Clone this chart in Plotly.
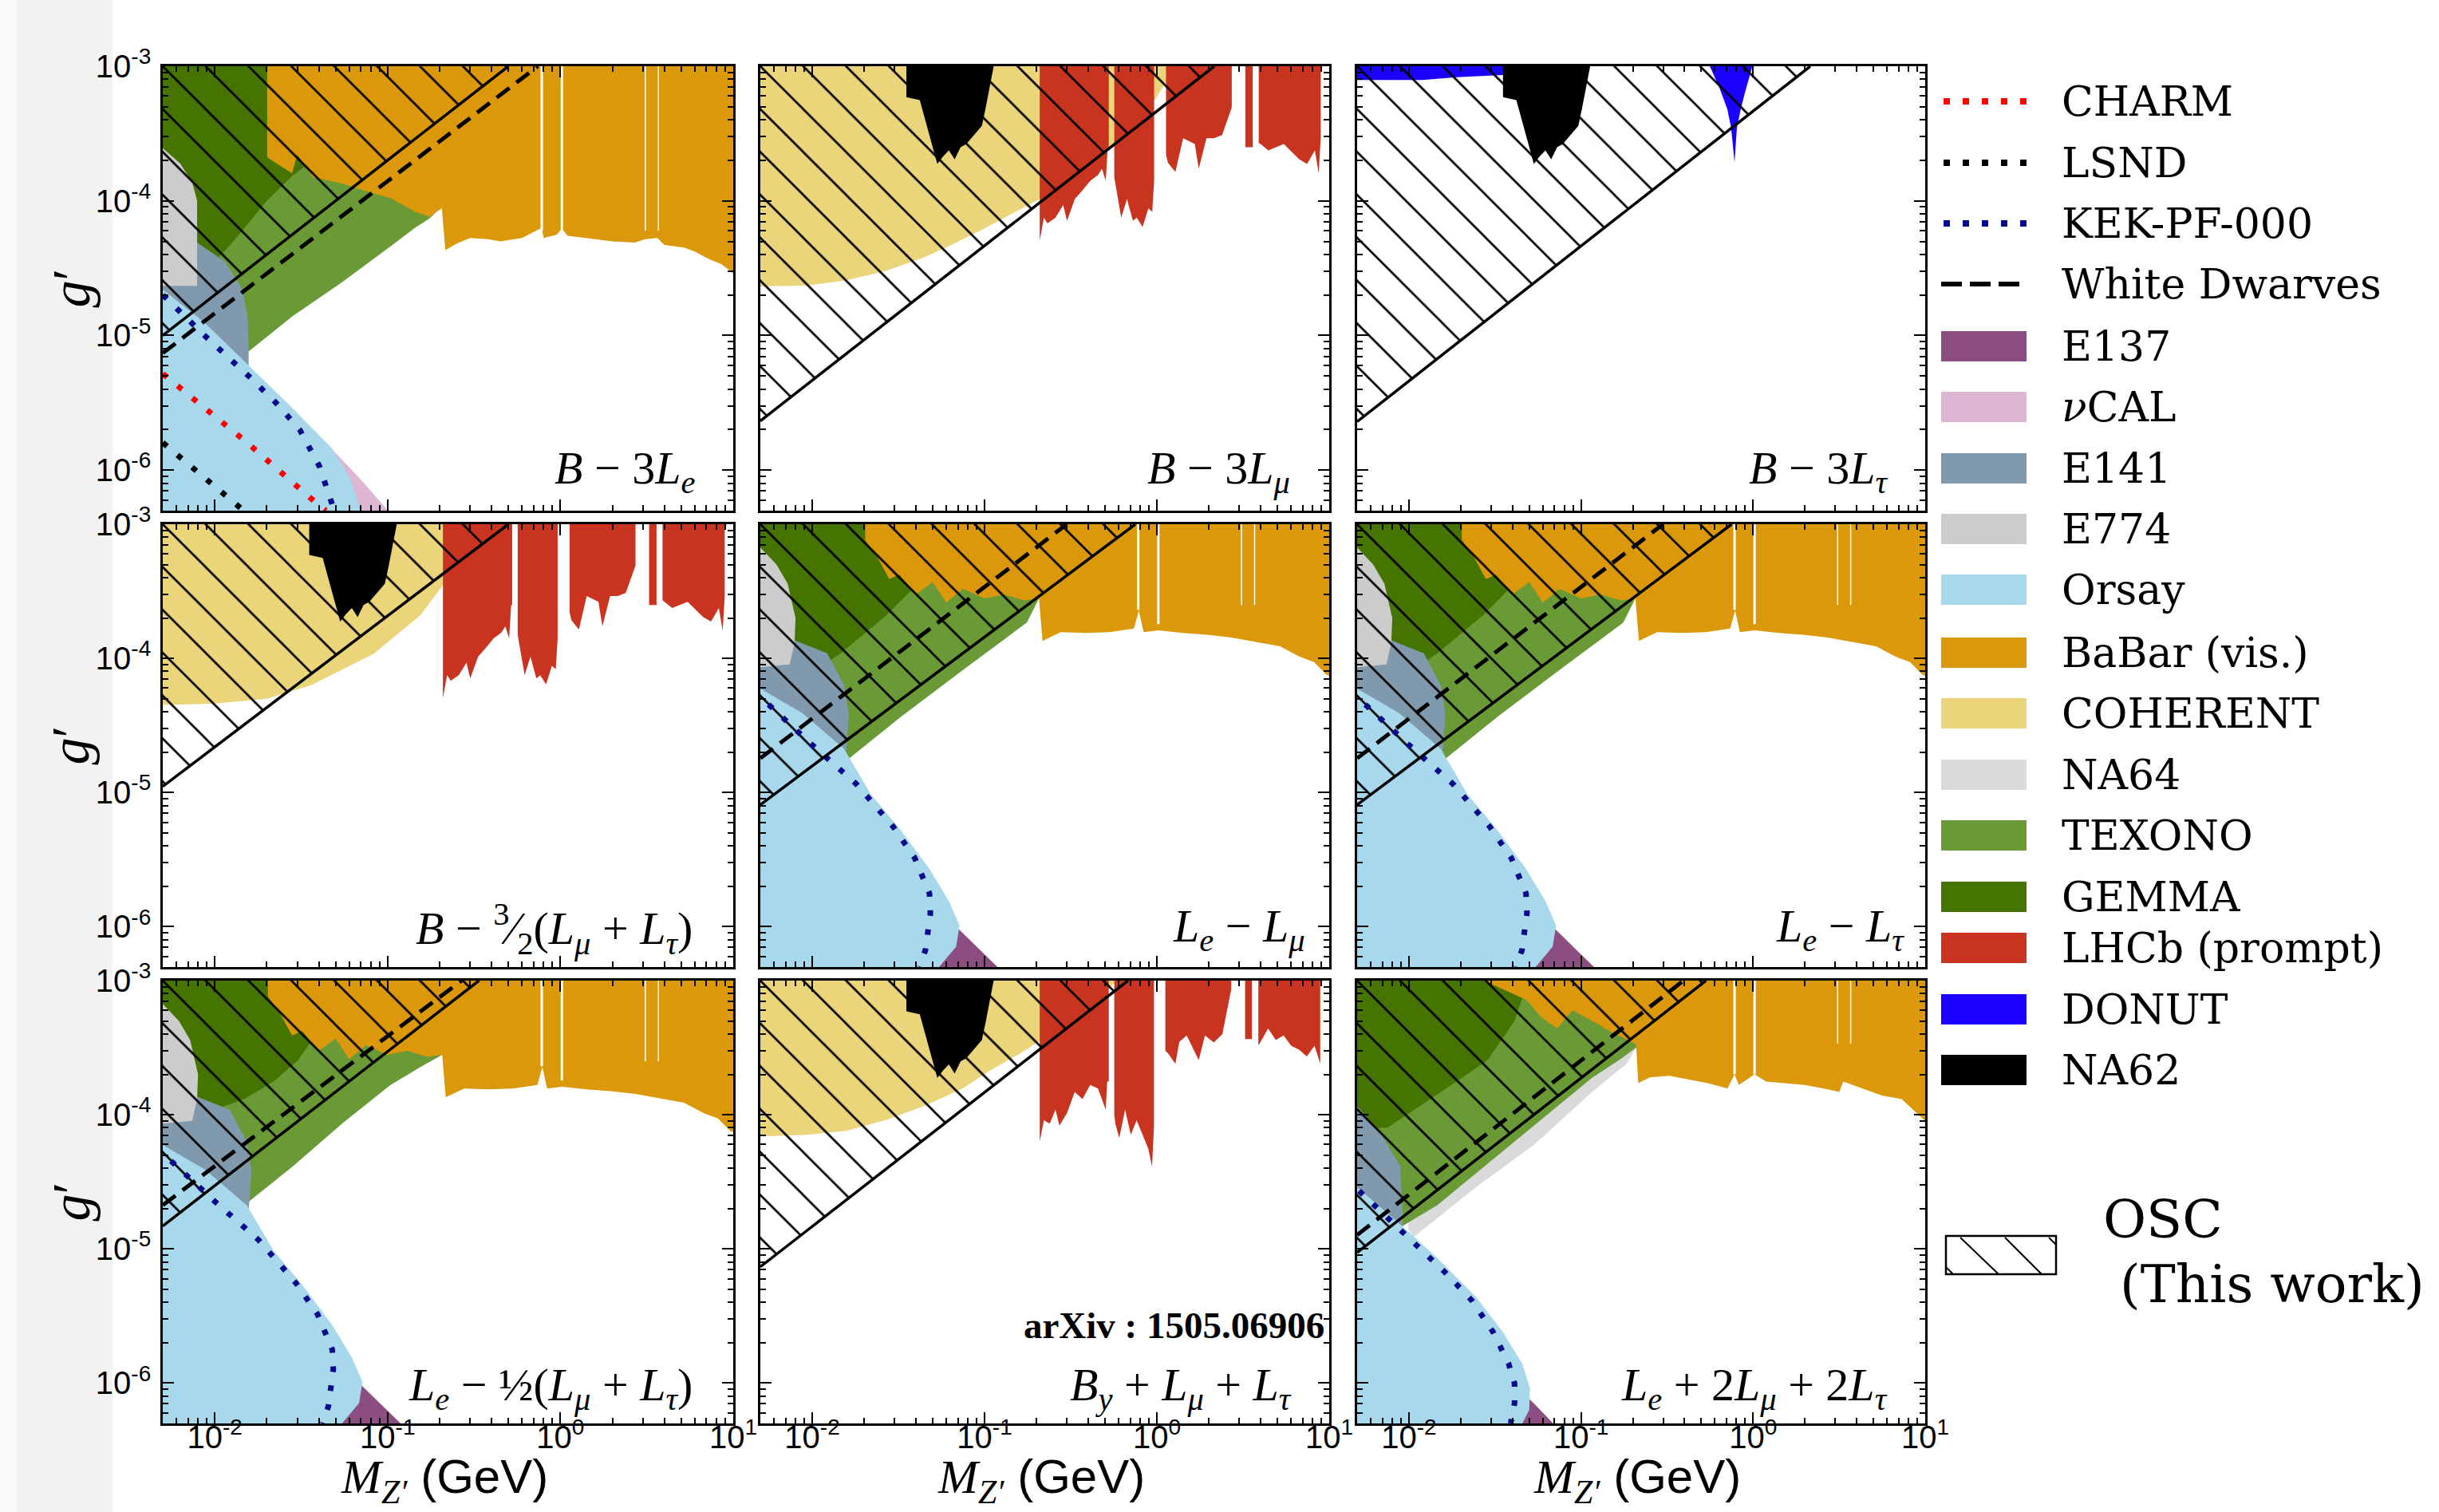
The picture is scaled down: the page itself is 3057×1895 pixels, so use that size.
import math
import plotly.graph_objects as go

W, H = 3057, 1895

# ---------------- axes / ticks ----------------
X_RANGE = [0.005, 10.0]
Y_RANGE = [5e-7, 1e-3]
X_TICKS = [0.01, 0.1, 1.0, 10.0]
X_TICK_TEXT = ["10<sup>-2</sup>", "10<sup>-1</sup>", "10<sup>0</sup>", "10<sup>1</sup>"]
Y_TICKS = [1e-6, 1e-5, 1e-4, 1e-3]
Y_TICK_TEXT = ["10<sup>-6</sup>", "10<sup>-5</sup>", "10<sup>-4</sup>", "10<sup>-3</sup>"]

OPM = " \u2212 "
OPP = " + "
PANEL_LABELS = [
    "<i>B</i>" + OPM + "3<i>L</i><sub><i>e</i></sub>",
    "<i>B</i>" + OPM + "3<i>L</i><sub><i>\u03bc</i></sub>",
    "<i>B</i>" + OPM + "3<i>L</i><sub><i>\u03c4</i></sub>",
    "<i>B</i>" + OPM + "<sup>3</sup>\u2044<sub>2</sub>(<i>L</i><sub><i>\u03bc</i></sub>" + OPP + "<i>L</i><sub><i>\u03c4</i></sub>)",
    "<i>L</i><sub><i>e</i></sub>" + OPM + "<i>L</i><sub><i>\u03bc</i></sub>",
    "<i>L</i><sub><i>e</i></sub>" + OPM + "<i>L</i><sub><i>\u03c4</i></sub>",
    "<i>L</i><sub><i>e</i></sub>" + OPM + "\u00bd(<i>L</i><sub><i>\u03bc</i></sub>" + OPP + "<i>L</i><sub><i>\u03c4</i></sub>)",
    "<i>B</i><sub><i>y</i></sub>" + OPP + "<i>L</i><sub><i>\u03bc</i></sub>" + OPP + "<i>L</i><sub><i>\u03c4</i></sub>",
    "<i>L</i><sub><i>e</i></sub>" + OPP + "2<i>L</i><sub><i>\u03bc</i></sub>" + OPP + "2<i>L</i><sub><i>\u03c4</i></sub>",
]
ARXIV_TEXT = "arXiv : 1505.06906"

# ---------------- shared data ----------------
NA62_X = [0.0352, 0.0352, 0.0421, 0.0468, 0.0532, 0.0575, 0.0621, 0.0671, 0.0726, 0.0784, 0.0869, 0.0965, 0.1016, 0.113]
NA62_Y = [1e-3, 5.9e-4, 5.6e-4, 3.42e-4, 1.88e-4, 2.14e-4, 2.37e-4, 2.03e-4, 2.50e-4, 2.64e-4, 3.08e-4, 3.61e-4, 4.93e-4, 1e-3]
GAP_X = [0.78, 1.02, 3.10, 3.69]

# ---------------- panel 1 : B - 3Le ----------------
P1_OSC_X = [0.005, 0.50]
P1_OSC_Y = [1.0e-5, 1e-3]
P1_WD_X = [0.005, 0.74]
P1_WD_Y = [7.4e-6, 1e-3]
P1_TEXONO_X = [0.005, 0.40, 0.21, 0.206, 0.175, 0.144, 0.104, 0.0541, 0.0282, 0.0157, 0.005]
P1_TEXONO_Y = [1e-3, 1e-3, 1.3e-4, 9.1e-5, 7.4e-5, 6.3e-5, 4.6e-5, 2.47e-5, 1.39e-5, 7.6e-6, 7.6e-6]
P1_GEMMA_X = [0.005, 0.06, 0.06, 0.035, 0.0282, 0.020, 0.0121, 0.0079, 0.005]
P1_GEMMA_Y = [1e-3, 1e-3, 2.2e-4, 1.9e-4, 1.54e-4, 1.0e-4, 4.6e-5, 2.6e-5, 2.0e-5]
P1_BABAR_X = [0.0201, 10, 10, 9.7, 8.5, 7.2, 6.0, 5.2, 4.0, 3.64, 3.09, 2.7, 2.0, 1.41, 1.1, 1.02, 0.95, 0.80,
              0.78, 0.6, 0.45, 0.38, 0.30, 0.25, 0.216, 0.206, 0.19, 0.175, 0.144, 0.104, 0.08, 0.054, 0.037,
              0.030, 0.028, 0.0201]
P1_BABAR_Y = [1e-3, 1e-3, 2.88e-5, 3.0e-5, 3.4e-5, 3.7e-5, 4.2e-5, 4.5e-5, 4.7e-5, 5.3e-5, 5.2e-5, 4.9e-5, 5.0e-5,
              5.3e-5, 5.5e-5, 6.2e-5, 5.6e-5, 5.3e-5, 6.3e-5, 5.3e-5, 5.0e-5, 5.2e-5, 5.3e-5, 4.8e-5, 4.3e-5,
              8.8e-5, 8.2e-5, 7.6e-5, 8.3e-5, 1.05e-4, 1.15e-4, 1.35e-4, 1.5e-4, 2.2e-4, 1.6e-4, 2.1e-4]
P1_GAP_BOTTOM = [6e-5, 6e-5, 6e-5, 6e-5]
P1_E774_X = [0.005, 0.0063, 0.0074, 0.0079, 0.0079, 0.005]
P1_E774_Y = [2.46e-4, 1.9e-4, 1.38e-4, 1.0e-4, 2.34e-5, 2.34e-5]
P1_E141_X = [0.005, 0.0079, 0.0114, 0.0144, 0.0155, 0.0157, 0.0157, 0.005]
P1_E141_Y = [5e-5, 4.9e-5, 3.56e-5, 2.22e-5, 1.39e-5, 9e-6, 5.5e-6, 5.5e-6]
P1_ORSAY_X = [0.005, 0.0087, 0.0157, 0.0282, 0.0475, 0.060, 0.0703, 0.005]
P1_ORSAY_Y = [2.2e-5, 1.25e-5, 6.0e-6, 2.88e-6, 1.46e-6, 9.0e-7, 5e-7, 5e-7]
P1_NUCAL_X = [0.035, 0.047, 0.070, 0.1005, 0.035]
P1_NUCAL_Y = [2.0e-6, 1.46e-6, 8.5e-7, 5e-7, 5e-7]
P1_KEK_X = [0.005, 0.00887, 0.0157, 0.0224, 0.031, 0.0403, 0.0475, 0.049]
P1_KEK_Y = [2.0e-5, 9.8e-6, 5.0e-6, 3.2e-6, 2.0e-6, 1.07e-6, 5.7e-7, 5e-7]
P1_CHARM_X = [0.005, 0.0152, 0.0395, 0.044]
P1_CHARM_Y = [5.2e-6, 1.62e-6, 5.56e-7, 5e-7]
P1_LSND_X = [0.005, 0.0147]
P1_LSND_Y = [1.6e-6, 5e-7]

# ---------------- panel 2 : B - 3Lmu ----------------
P2_OSC_X = [0.005, 2.155]
P2_OSC_Y = [2.32e-6, 1e-3]
P2_COH_X = [0.005, 0.005, 0.0094, 0.0158, 0.0265, 0.0444, 0.0638, 0.0965, 0.146, 0.209, 0.352, 0.546, 0.99, 1.28]
P2_COH_Y = [1e-3, 2.31e-5, 2.35e-5, 2.57e-5, 3.01e-5, 3.80e-5, 4.69e-5, 6.1e-5, 8.1e-5, 1.03e-4, 1.73e-4, 2.5e-4, 5.8e-4, 1e-3]
P2_LHCB_X = [0.209, 0.209, 0.221, 0.232, 0.258, 0.286, 0.301, 0.334, 0.371, 0.411, 0.456, 0.48, 0.505, 0.519, 0.526, 0.526, None,
             0.566, 0.566, 0.575, 0.621, 0.671, 0.726, 0.764, 0.826, 0.893, 0.94, 0.964, 0.964, None,
             1.13, 1.13, 1.16, 1.28, 1.42, 1.66, 1.75, 1.94, 2.15, 2.39, 2.72, 2.72, None,
             3.26, 3.26, 3.6, 3.6, None,
             3.9, 3.9, 4.0, 4.43, 5.45, 6.71, 7.44, 8.26, 8.69, 8.93, 8.93]
P2_LHCB_Y = [1e-3, 5.07e-5, 7.5e-5, 6.8e-5, 7.5e-5, 9.3e-5, 7.1e-5, 1.03e-4, 1.2e-4, 1.41e-4, 1.56e-4, 1.73e-4, 1.41e-4, 2.5e-4, 2.5e-4, 1e-3, None,
             1e-3, 1.5e-4, 1.33e-4, 7.5e-5, 1.03e-4, 7.1e-5, 7.5e-5, 6.4e-5, 8.8e-5, 8.3e-5, 1.41e-4, 1e-3, None,
             1e-3, 2.2e-4, 1.92e-4, 1.64e-4, 2.92e-4, 2.64e-4, 1.73e-4, 2.92e-4, 2.92e-4, 3.08e-4, 4.93e-4, 1e-3, None,
             1e-3, 2.5e-4, 2.5e-4, 1e-3, None,
             1e-3, 2.7e-4, 2.64e-4, 2.37e-4, 2.64e-4, 2.03e-4, 1.88e-4, 2.37e-4, 1.6e-4, 2.92e-4, 1e-3]

# ---------------- panel 3 : B - 3Ltau ----------------
P3_OSC_X = [0.005, 2.15]
P3_OSC_Y = [2.29e-6, 1e-3]
P3_DONUT_X = [0.005, 0.005, 0.012, 0.0189, 0.0352, 0.0526, 0.06, None,
              0.56, 0.638, 0.708, 0.745, 0.78, 0.805, 0.848, 0.893, 0.99]
P3_DONUT_Y = [1e-3, 7.9e-4, 7.9e-4, 8.3e-4, 8.6e-4, 9.4e-4, 1e-3, None,
              1e-3, 6.9e-4, 4.8e-4, 3.5e-4, 1.93e-4, 3.5e-4, 4.8e-4, 6.25e-4, 1e-3]

# ---------------- panel 4 : B - 3/2(Lmu+Ltau) ----------------
P4_OSC_X = [0.005, 0.50]
P4_OSC_Y = [1.11e-5, 1e-3]
P4_COH_X = [0.005, 0.005, 0.010, 0.020, 0.0361, 0.083, 0.155, 0.212, 0.30, 0.50]
P4_COH_Y = [1e-3, 4.5e-5, 4.6e-5, 5.0e-5, 6.3e-5, 1.08e-4, 2.1e-4, 3.6e-4, 5.5e-4, 1e-3]

# ---------------- panels 5/6 : Le - Lmu, Le - Ltau ----------------
P5_OSC_X = [0.005, 0.75]
P5_OSC_Y = [8.1e-6, 1e-3]
P5_WD_X = [0.005, 0.30]
P5_WD_Y = [1.8e-5, 1e-3]
P5_TEXONO_X = [0.005, 0.40, 0.207, 0.176, 0.076, 0.033, 0.0145, 0.0140, 0.005]
P5_TEXONO_Y = [1e-3, 1e-3, 2.8e-4, 1.85e-4, 8.3e-5, 3.7e-5, 1.58e-5, 1.4e-5, 1.4e-5]
P5_GEMMA_X = [0.005, 0.06, 0.06, 0.041, 0.027, 0.0145, 0.0077, 0.005]
P5_GEMMA_Y = [1e-3, 1e-3, 4e-4, 3.6e-4, 2.1e-4, 1.08e-4, 6.3e-5, 5e-5]

# ---------------- panel 7 : Le - 1/2(Lmu+Ltau) ----------------
P7_OSC_X = [0.005, 0.338]
P7_OSC_Y = [1.48e-5, 1e-3]
P7_WD_X = [0.005, 0.268]
P7_WD_Y = [2.12e-5, 1e-3]
P7_TEXONO_X = [0.005, 0.40, 0.207, 0.155, 0.104, 0.0545, 0.0284, 0.0158, 0.0155, 0.005]
P7_TEXONO_Y = [1e-3, 1e-3, 2.8e-4, 2.27e-4, 1.67e-4, 8.6e-5, 4.14e-5, 2.26e-5, 1.8e-5, 1.8e-5]
P7_GEMMA_X = [0.005, 0.06, 0.06, 0.0369, 0.0303, 0.0219, 0.0148, 0.0088, 0.005]
P7_GEMMA_Y = [1e-3, 1e-3, 5e-4, 3.67e-4, 2.55e-4, 1.77e-4, 1.31e-4, 1.03e-4, 9e-5]
P7_BABAR_X = [0.0203, 10, 10, 9.6, 8.16, 6.73, 5.19, 3.74, 2.71, 1.95, 1.41, 1.02, 0.838, 0.786, 0.736, 0.532,
              0.384, 0.277, 0.217, 0.207, 0.17, 0.13, 0.10, 0.075, 0.06, 0.05, 0.04, 0.032, 0.028, 0.024, 0.0203]
P7_BABAR_Y = [1e-3, 1e-3, 7.4e-5, 7.6e-5, 9.4e-5, 1.03e-4, 1.23e-4, 1.33e-4, 1.43e-4, 1.5e-4, 1.55e-4, 1.62e-4,
              1.57e-4, 2.27e-4, 1.67e-4, 1.57e-4, 1.55e-4, 1.57e-4, 1.35e-4, 2.8e-4, 2.7e-4, 3.0e-4, 2.8e-4,
              3.3e-4, 2.6e-4, 3.7e-4, 3.0e-4, 4.2e-4, 3.9e-4, 5.6e-4, 7.6e-4]
P7_GAP_BOTTOM = [2.3e-4, 1.8e-4, 2.5e-4, 2.5e-4]
P7_E774_X = [0.005, 0.0062, 0.0072, 0.0080, 0.0079, 0.0074, 0.005]
P7_E774_Y = [6.7e-4, 5.0e-4, 3.6e-4, 2.0e-4, 1.31e-4, 9e-5, 8.6e-5]
P7_E141_X = [0.005, 0.0075, 0.0122, 0.0153, 0.0163, 0.0158, 0.0155, 0.005]
P7_E141_Y = [1.6e-4, 1.4e-4, 1.09e-4, 6.3e-5, 3.9e-5, 2.26e-5, 1.5e-5, 1.5e-5]
P7_ORSAY_X = [0.005, 0.0088, 0.0153, 0.0219, 0.0324, 0.0478, 0.062, 0.0716, 0.0684, 0.0545, 0.005]
P7_ORSAY_Y = [5.96e-5, 3.9e-5, 2.12e-5, 9.7e-6, 5.3e-6, 2.7e-6, 1.56e-6, 1.02e-6, 7.1e-7, 5e-7, 5e-7]
P7_E137_X = [0.06, 0.0706, 0.119, 0.05]
P7_E137_Y = [1.1e-6, 9.6e-7, 5e-7, 5e-7]
P7_KEK_X = [0.00558, 0.01, 0.018, 0.0294, 0.0394, 0.0479, 0.0485, 0.0454, 0.042]
P7_KEK_Y = [4.53e-5, 2.26e-5, 1.16e-5, 5.6e-6, 3.24e-6, 1.77e-6, 1.26e-6, 6.7e-7, 5e-7]

# ---------------- panel 8 : By + Lmu + Ltau ----------------
P8_OSC_X = [0.005, 0.68]
P8_OSC_Y = [7.35e-6, 1e-3]
P8_COH_X = [0.005, 0.005, 0.0094, 0.0158, 0.0265, 0.0445, 0.0746, 0.107, 0.162, 0.21, 0.352, 0.546, 0.59]
P8_COH_Y = [1e-3, 6.9e-5, 7.1e-5, 7.6e-5, 9.1e-5, 1.16e-4, 1.57e-4, 2.13e-4, 2.88e-4, 3.57e-4, 5.6e-4, 9.1e-4, 1e-3]
P8_LHCB_X = [0.209, 0.209, 0.221, 0.239, 0.258, 0.272, 0.301, 0.334, 0.37, 0.41, 0.455, 0.48, 0.505, 0.515, 0.526, 0.526, None,
             0.566, 0.566, 0.574, 0.605, 0.654, 0.706, 0.763, 0.824, 0.891, 0.938, 0.962, 0.962, None,
             1.12, 1.12, 1.16, 1.28, 1.35, 1.49, 1.75, 1.9, 2.14, 2.4, 2.70, 2.70, None,
             3.25, 3.25, 3.56, 3.56, None,
             3.88, 3.88, 3.98, 4.42, 4.9, 5.43, 6.02, 6.68, 7.41, 8.22, 8.87, 8.87]
P8_LHCB_Y = [1e-3, 6.3e-5, 9.1e-5, 8.6e-5, 1.09e-4, 8.3e-5, 1.03e-4, 1.48e-4, 1.31e-4, 1.67e-4, 1.57e-4, 1.31e-4, 1.09e-4, 1.77e-4, 1.77e-4, 1e-3, None,
             1e-3, 1.0e-4, 8.6e-5, 6.7e-5, 1.09e-4, 7.1e-5, 9.1e-5, 7.1e-5, 5.6e-5, 4.1e-5, 8.3e-5, 1e-3, None,
             1e-3, 3.0e-4, 2.88e-4, 2.4e-4, 3.5e-4, 3.9e-4, 2.55e-4, 3.9e-4, 3.46e-4, 4.0e-4, 8.6e-4, 1e-3, None,
             1e-3, 3.67e-4, 3.67e-4, 1e-3, None,
             1e-3, 3.3e-4, 3.46e-4, 4.4e-4, 3.6e-4, 3.9e-4, 3.26e-4, 3.06e-4, 2.72e-4, 3.26e-4, 2.4e-4, 1e-3]

# ---------------- panel 9 : Le + 2Lmu + 2Ltau ----------------
P9_OSC_X = [0.005, 0.532]
P9_OSC_Y = [9.4e-6, 1e-3]
P9_WD_X = [0.005, 0.394]
P9_WD_Y = [1.27e-5, 1e-3]
P9_NA64_X = [0.0099, 0.0107, 0.0245, 0.0532, 0.116, 0.184, 0.209, 0.209, 0.0099]
P9_NA64_Y = [1.4e-5, 1.23e-5, 2.88e-5, 5.96e-5, 1.48e-4, 2.4e-4, 3.16e-4, 5e-4, 5e-4]
P9_TEXONO_X = [0.005, 0.30, 0.209, 0.166, 0.116, 0.0689, 0.0411, 0.0245, 0.0146, 0.00916, 0.0088, 0.005]
P9_TEXONO_Y = [1e-3, 1e-3, 3.16e-4, 2.55e-4, 1.89e-4, 1.09e-4, 6.3e-5, 3.66e-5, 2.12e-5, 1.48e-5, 1.7e-5, 1.7e-5]
P9_GEMMA_X = [0.005, 0.05, 0.048, 0.0411, 0.0286, 0.0189, 0.0087, 0.0075, 0.005]
P9_GEMMA_Y = [1e-3, 1e-3, 9.1e-4, 5.0e-4, 2.55e-4, 1.77e-4, 9.1e-5, 8e-5, 8e-5]
P9_BABAR_X = [0.0272, 10, 10, 9.9, 8.5, 7.3, 5.6, 4.3, 3.34, 3.17, 2.58, 1.99, 1.54, 1.19, 1.02, 0.826, 0.78, 0.71,
              0.546, 0.42, 0.325, 0.251, 0.215, 0.209, 0.15, 0.116, 0.089, 0.0727, 0.059, 0.048, 0.039, 0.0317, 0.0272]
P9_BABAR_Y = [1e-3, 1e-3, 8.5e-5, 9.1e-5, 1.09e-4, 1.31e-4, 1.39e-4, 1.57e-4, 1.77e-4, 1.48e-4, 1.57e-4, 1.67e-4,
              1.72e-4, 1.77e-4, 2.0e-4, 1.67e-4, 2.0e-4, 1.57e-4, 1.72e-4, 1.83e-4, 1.95e-4, 1.9e-4, 1.72e-4, 3.36e-4,
              4.15e-4, 5.0e-4, 6.0e-4, 4.4e-4, 5.3e-4, 7.2e-4, 8.1e-4, 9.1e-4, 1e-3]
P9_GAP_BOTTOM = [2.0e-4, 2.0e-4, 3.4e-4, 3.4e-4]
P9_E141_X = [0.005, 0.0067, 0.0089, 0.0092, 0.0092, 0.005]
P9_E141_Y = [1.16e-4, 7.6e-5, 4.14e-5, 1.77e-5, 1.3e-5, 1.3e-5]
P9_ORSAY_X = [0.005, 0.00916, 0.0146, 0.0245, 0.0352, 0.0456, 0.0505, 0.050, 0.0456, 0.005]
P9_ORSAY_Y = [2.88e-5, 1.48e-5, 8.55e-6, 4.39e-6, 2.39e-6, 1.39e-6, 9.1e-7, 6.3e-7, 5e-7, 5e-7]
P9_E137_X = [0.048, 0.053, 0.0689, 0.040]
P9_E137_Y = [8e-7, 7.1e-7, 5e-7, 5e-7]
P9_KEK_X = [0.00513, 0.00916, 0.0162, 0.0232, 0.0309, 0.038, 0.0411, 0.0411, 0.039]
P9_KEK_Y = [2.71e-5, 1.35e-5, 6.7e-6, 4.13e-6, 2.39e-6, 1.39e-6, 9.9e-7, 7.1e-7, 5e-7]

# ---------------- legend ----------------
LEGEND_LINE_NAMES = ["CHARM", "LSND", "KEK-PF-000", "White Dwarves"]
LEGEND_FILL_NAMES = ["E137", "<i>\u03bd</i>CAL", "E141", "E774", "Orsay", "BaBar (vis.)", "COHERENT", "NA64",
                     "TEXONO", "GEMMA", "LHCb (prompt)", "DONUT", "NA62"]

# ---------------- styling ----------------
C = dict(CHARM="#FF0000", LSND="#000000", KEK="#0A0A8C", WD="#000000", E137="#8C4E80", NUCAL="#DDB6D4",
         E141="#8099AD", E774="#CCCCCC", ORSAY="#A7D8EC", BABAR="#DB980B", COH="#EBD57B", NA64="#DADADA",
         TEXONO="#699A35", GEMMA="#467400", LHCB="#C93421", DONUT="#1A00FF", NA62="#000000")
LEGEND_LINE_COLORS = [C["CHARM"], C["LSND"], C["KEK"], C["WD"]]
LEGEND_FILL_COLORS = [C["E137"], C["NUCAL"], C["E141"], C["E774"], C["ORSAY"], C["BABAR"], C["COH"], C["NA64"],
                      C["TEXONO"], C["GEMMA"], C["LHCB"], C["DONUT"], C["NA62"]]
LEG_LINE_YPX = [127, 204, 280, 356]
LEG_FILL_YPX = [434, 510, 587, 663, 739, 818, 894, 971, 1047, 1124, 1188, 1265, 1341]

COL_PX = [(204, 919), (953, 1666), (1701, 2413)]
ROW_PX = [(83, 640), (657, 1212), (1229, 1784)]
LABEL_RIGHT_PX = [873, 1619, 2368, 870, 1638, 2389, 870, 1621, 2368]
LABEL_Y_PX = [591, 591, 591, 1164, 1164, 1164, 1739, 1739, 1739]

SERIF = "Liberation Serif"
SANS = "Liberation Sans"
LEGF = "DejaVu Serif"
DOT = "7px,17px"
WDASH = "20px,11px"


def px(xp):
    return xp / W


def py(yp):
    return 1 - yp / H


fig = go.Figure()


def axes(p):
    return ("x" if p == 0 else "x%d" % (p + 1)), ("y" if p == 0 else "y%d" % (p + 1))


def add_fill(p, xs, ys, color, name):
    xa, ya = axes(p)
    fig.add_trace(go.Scatter(x=xs, y=ys, xaxis=xa, yaxis=ya, mode="lines", fill="toself", fillcolor=color,
                             line=dict(width=0, color=color), hoverinfo="skip", showlegend=False, name=name))


def add_line(p, xs, ys, color, width, dash, name):
    xa, ya = axes(p)
    fig.add_trace(go.Scatter(x=xs, y=ys, xaxis=xa, yaxis=ya, mode="lines",
                             line=dict(width=width, color=color, dash=dash), hoverinfo="skip",
                             showlegend=False, name=name))


def add_hatch(p, ox, oy):
    xa, ya = axes(p)
    xs = [ox[0], ox[1], ox[0], ox[0]]
    ys = [oy[0], oy[1], Y_RANGE[1], oy[0]]
    fig.add_trace(go.Scatter(x=xs, y=ys, xaxis=xa, yaxis=ya, mode="lines", fill="toself",
                             fillcolor="rgba(0,0,0,0)",
                             fillpattern=dict(shape="\\", size=38, solidity=0.07, fgcolor="black",
                                              bgcolor="rgba(0,0,0,0)", fillmode="replace"),
                             line=dict(width=0, color="black"), hoverinfo="skip", showlegend=False,
                             name="OSC (This work)"))


def add_gaps(p, bottoms):
    xw, yw, xt, yt = [], [], [], []
    for i, (gx, gb) in enumerate(zip(GAP_X, bottoms)):
        if i < 2:
            xw += [gx, gx, None]
            yw += [Y_RANGE[1], gb, None]
        else:
            xt += [gx, gx, None]
            yt += [Y_RANGE[1], gb, None]
    add_line(p, xw, yw, "white", 3, "solid", "BaBar veto")
    add_line(p, xt, yt, "white", 1.5, "solid", "BaBar veto")


def osc_lines(p, ox, oy, wdx=None, wdy=None):
    if wdx is not None:
        add_line(p, wdx, wdy, C["WD"], 5, WDASH, "White Dwarves")
    add_line(p, ox, oy, "black", 3.5, "solid", "OSC")


# ---- panel 1
p = 0
add_fill(p, P1_TEXONO_X, P1_TEXONO_Y, C["TEXONO"], "TEXONO")
add_fill(p, P1_GEMMA_X, P1_GEMMA_Y, C["GEMMA"], "GEMMA")
add_fill(p, P1_BABAR_X, P1_BABAR_Y, C["BABAR"], "BaBar")
add_fill(p, P1_E141_X, P1_E141_Y, C["E141"], "E141")
add_fill(p, P1_E774_X, P1_E774_Y, C["E774"], "E774")
add_fill(p, P1_NUCAL_X, P1_NUCAL_Y, C["NUCAL"], "nuCAL")
add_fill(p, P1_ORSAY_X, P1_ORSAY_Y, C["ORSAY"], "Orsay")
add_gaps(p, P1_GAP_BOTTOM)
add_hatch(p, P1_OSC_X, P1_OSC_Y)
add_line(p, P1_LSND_X, P1_LSND_Y, C["LSND"], 7, DOT, "LSND")
add_line(p, P1_CHARM_X, P1_CHARM_Y, C["CHARM"], 7, DOT, "CHARM")
add_line(p, P1_KEK_X, P1_KEK_Y, C["KEK"], 7, DOT, "KEK")
osc_lines(p, P1_OSC_X, P1_OSC_Y, P1_WD_X, P1_WD_Y)

# ---- panels 2, 4, 8 (muon-type)
for p, cx, cy, lx, ly, ox, oy in [(1, P2_COH_X, P2_COH_Y, P2_LHCB_X, P2_LHCB_Y, P2_OSC_X, P2_OSC_Y),
                                  (3, P4_COH_X, P4_COH_Y, P2_LHCB_X, P2_LHCB_Y, P4_OSC_X, P4_OSC_Y),
                                  (7, P8_COH_X, P8_COH_Y, P8_LHCB_X, P8_LHCB_Y, P8_OSC_X, P8_OSC_Y)]:
    add_fill(p, cx, cy, C["COH"], "COHERENT")
    add_fill(p, lx, ly, C["LHCB"], "LHCb")
    add_fill(p, NA62_X, NA62_Y, C["NA62"], "NA62")
    add_hatch(p, ox, oy)
    osc_lines(p, ox, oy)

# ---- panel 3
p = 2
add_fill(p, P3_DONUT_X, P3_DONUT_Y, C["DONUT"], "DONUT")
add_fill(p, NA62_X, NA62_Y, C["NA62"], "NA62")
add_hatch(p, P3_OSC_X, P3_OSC_Y)
osc_lines(p, P3_OSC_X, P3_OSC_Y)

# ---- panels 5, 6, 7 (electron-type)
for p, tx, ty, gx, gy, ox, oy, wx, wy in [
        (4, P5_TEXONO_X, P5_TEXONO_Y, P5_GEMMA_X, P5_GEMMA_Y, P5_OSC_X, P5_OSC_Y, P5_WD_X, P5_WD_Y),
        (5, P5_TEXONO_X, P5_TEXONO_Y, P5_GEMMA_X, P5_GEMMA_Y, P5_OSC_X, P5_OSC_Y, P5_WD_X, P5_WD_Y),
        (6, P7_TEXONO_X, P7_TEXONO_Y, P7_GEMMA_X, P7_GEMMA_Y, P7_OSC_X, P7_OSC_Y, P7_WD_X, P7_WD_Y)]:
    add_fill(p, tx, ty, C["TEXONO"], "TEXONO")
    add_fill(p, gx, gy, C["GEMMA"], "GEMMA")
    add_fill(p, P7_BABAR_X, P7_BABAR_Y, C["BABAR"], "BaBar")
    add_fill(p, P7_E141_X, P7_E141_Y, C["E141"], "E141")
    add_fill(p, P7_E774_X, P7_E774_Y, C["E774"], "E774")
    add_fill(p, P7_E137_X, P7_E137_Y, C["E137"], "E137")
    add_fill(p, P7_ORSAY_X, P7_ORSAY_Y, C["ORSAY"], "Orsay")
    add_gaps(p, P7_GAP_BOTTOM)
    add_hatch(p, ox, oy)
    add_line(p, P7_KEK_X, P7_KEK_Y, C["KEK"], 7, DOT, "KEK")
    osc_lines(p, ox, oy, wx, wy)

# ---- panel 9
p = 8
add_fill(p, P9_NA64_X, P9_NA64_Y, C["NA64"], "NA64")
add_fill(p, P9_TEXONO_X, P9_TEXONO_Y, C["TEXONO"], "TEXONO")
add_fill(p, P9_GEMMA_X, P9_GEMMA_Y, C["GEMMA"], "GEMMA")
add_fill(p, P9_BABAR_X, P9_BABAR_Y, C["BABAR"], "BaBar")
add_fill(p, P9_E141_X, P9_E141_Y, C["E141"], "E141")
add_fill(p, P9_E137_X, P9_E137_Y, C["E137"], "E137")
add_fill(p, P9_ORSAY_X, P9_ORSAY_Y, C["ORSAY"], "Orsay")
add_gaps(p, P9_GAP_BOTTOM)
add_hatch(p, P9_OSC_X, P9_OSC_Y)
add_line(p, P9_KEK_X, P9_KEK_Y, C["KEK"], 7, DOT, "KEK")
osc_lines(p, P9_OSC_X, P9_OSC_Y, P9_WD_X, P9_WD_Y)


# ---------------- axes ----------------
def minor_vals(lo, hi):
    vals = []
    for d in range(-8, 2):
        for k in range(2, 10):
            v = k * 10.0 ** d
            if lo < v < hi:
                vals.append(v)
    return vals


XMINOR = minor_vals(*X_RANGE)
YMINOR = minor_vals(*Y_RANGE)

layout = dict(width=W, height=H, margin=dict(l=0, r=0, t=0, b=0, autoexpand=False), paper_bgcolor="white",
              plot_bgcolor="white", showlegend=False)
for p in range(9):
    r, c = divmod(p, 3)
    x0, x1 = COL_PX[c]
    yt, yb = ROW_PX[r]
    xa, ya = axes(p)
    common = dict(type="log", showline=True, linecolor="black", linewidth=2.5, mirror="allticks",
                  ticks="inside", ticklen=14, tickwidth=2, tickcolor="black", showgrid=False,
                  zeroline=False, automargin=False, tickfont=dict(family=SANS, size=40, color="black"))
    layout["xaxis" if p == 0 else "xaxis%d" % (p + 1)] = dict(
        common, domain=[px(x0), px(x1)], range=[math.log10(X_RANGE[0]), math.log10(X_RANGE[1])],
        tickmode="array", tickvals=X_TICKS, ticktext=X_TICK_TEXT, showticklabels=(r == 2),
        ticklabelstandoff=-20, anchor=ya,
        minor=dict(tickmode="array", tickvals=XMINOR, ticks="inside", ticklen=7, tickwidth=1.5,
                   tickcolor="black", showgrid=False))
    layout["yaxis" if p == 0 else "yaxis%d" % (p + 1)] = dict(
        common, domain=[py(yb), py(yt)], range=[math.log10(Y_RANGE[0]), math.log10(Y_RANGE[1])],
        tickmode="array", tickvals=Y_TICKS, ticktext=Y_TICK_TEXT, showticklabels=(c == 0),
        ticklabelstandoff=4, anchor=xa,
        minor=dict(tickmode="array", tickvals=YMINOR, ticks="inside", ticklen=7, tickwidth=1.5,
                   tickcolor="black", showgrid=False))

shapes = []
annotations = []

# left grey strip of the page
shapes.append(dict(type="rect", xref="paper", yref="paper", x0=0, x1=px(21), y0=0, y1=1,
                   fillcolor="#F8F8F8", line=dict(width=0), layer="below"))
shapes.append(dict(type="rect", xref="paper", yref="paper", x0=px(21), x1=px(141), y0=0, y1=1,
                   fillcolor="#F2F2F2", line=dict(width=0), layer="below"))

# panel labels
for p in range(9):
    annotations.append(dict(text=PANEL_LABELS[p], xref="paper", yref="paper", x=px(LABEL_RIGHT_PX[p]),
                            y=py(LABEL_Y_PX[p]), xanchor="right", yanchor="middle", showarrow=False,
                            font=dict(family=SERIF, size=58, color="black")))
annotations.append(dict(text="<b>" + ARXIV_TEXT + "</b>", xref="paper", yref="paper", x=px(1662), y=py(1661),
                        xanchor="right", yanchor="middle", showarrow=False,
                        font=dict(family=SERIF, size=47, color="black")))

# axis titles
for r in range(3):
    yc = (ROW_PX[r][0] + ROW_PX[r][1]) / 2
    annotations.append(dict(text="<i>g</i>\u2032", xref="paper", yref="paper", x=px(88), y=py(yc),
                            xanchor="center", yanchor="middle", textangle=-90, showarrow=False,
                            font=dict(family=SERIF, size=68, color="black")))
for c in range(3):
    xc = (COL_PX[c][0] + COL_PX[c][1]) / 2
    annotations.append(dict(
        text="<span style='font-family:Liberation Serif'><i>M</i><sub><i>Z\u2032</i></sub></span> (GeV)",
        xref="paper", yref="paper", x=px(xc - 5), y=0, xanchor="center", yanchor="bottom", yshift=0,
        showarrow=False, font=dict(family=SANS, size=60, color="black")))

# legend (drawn manually)
SW_X0, SW_X1, TXT_X = 2433, 2540, 2582
line_widths = [8, 8, 8, 6]
line_dashes = ["8px,16px", "8px,16px", "8px,16px", "26px,10px"]
for name, col, yp, lw, ld in zip(LEGEND_LINE_NAMES, LEGEND_LINE_COLORS, LEG_LINE_YPX, line_widths, line_dashes):
    shapes.append(dict(type="line", xref="paper", yref="paper", x0=px(SW_X0 + (3 if lw == 8 else 0)),
                       x1=px(SW_X1), y0=py(yp), y1=py(yp), line=dict(color=col, width=lw, dash=ld)))
    annotations.append(dict(text=name, xref="paper", yref="paper", x=px(TXT_X), y=py(yp), xanchor="left",
                            yanchor="middle", showarrow=False, font=dict(family=LEGF, size=52, color="black")))
for name, col, yp in zip(LEGEND_FILL_NAMES, LEGEND_FILL_COLORS, LEG_FILL_YPX):
    shapes.append(dict(type="rect", xref="paper", yref="paper", x0=px(SW_X0), x1=px(SW_X1),
                       y0=py(yp + 19), y1=py(yp - 19), fillcolor=col, line=dict(width=0)))
    annotations.append(dict(text=name, xref="paper", yref="paper", x=px(TXT_X), y=py(yp), xanchor="left",
                            yanchor="middle", showarrow=False, font=dict(family=LEGF, size=52, color="black")))

# OSC legend entry (hatched box)
shapes.append(dict(type="rect", xref="paper", yref="paper", x0=px(2439), x1=px(2577), y0=py(1597), y1=py(1549),
                   fillcolor="rgba(0,0,0,0)", line=dict(color="black", width=2.5)))
for (a, b, cc, d) in [(2457, 1551, 2505, 1597), (2513, 1551, 2559, 1597), (2568, 1551, 2577, 1560),
                      (2439, 1588, 2448, 1597)]:
    shapes.append(dict(type="line", xref="paper", yref="paper", x0=px(a), y0=py(b), x1=px(cc), y1=py(d),
                       line=dict(color="black", width=2)))
annotations.append(dict(text="OSC", xref="paper", yref="paper", x=px(2634), y=py(1528), xanchor="left",
                        yanchor="middle", showarrow=False, font=dict(family=LEGF, size=66, color="black")))
annotations.append(dict(text="(This work)", xref="paper", yref="paper", x=px(2655), y=py(1609), xanchor="left",
                        yanchor="middle", showarrow=False, font=dict(family=LEGF, size=66, color="black")))

layout["shapes"] = shapes
layout["annotations"] = annotations
fig.update_layout(**layout)
fig.write_html("out.html", config={"displayModeBar": False})
